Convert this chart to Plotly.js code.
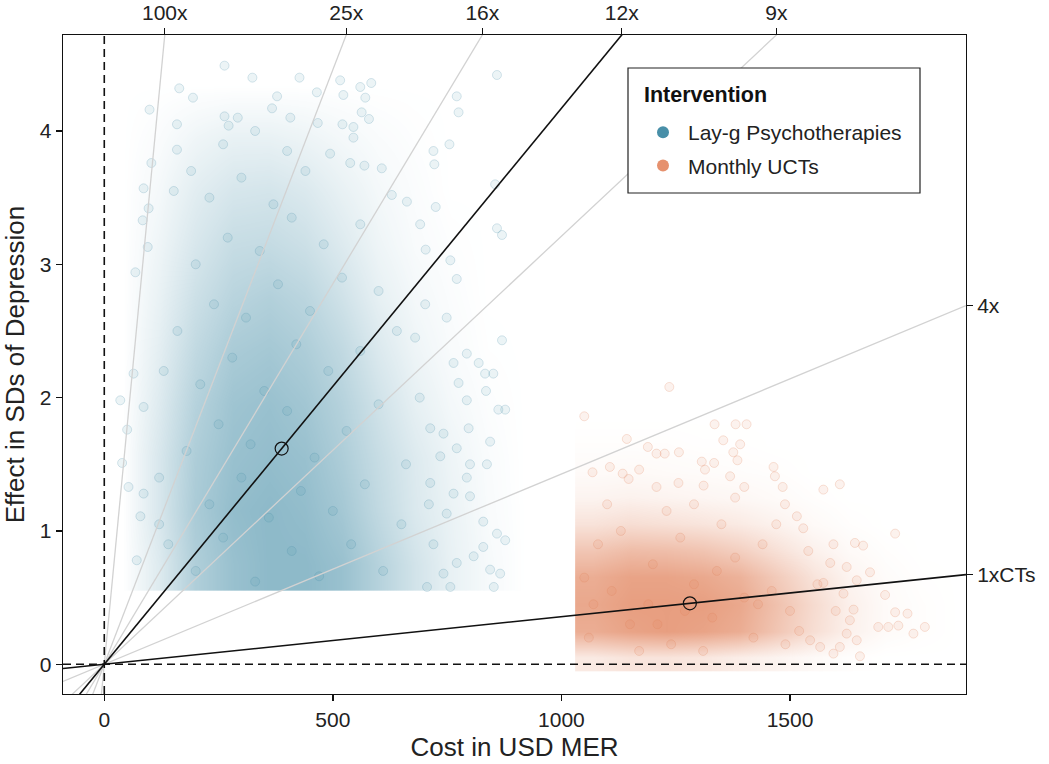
<!DOCTYPE html>
<html>
<head>
<meta charset="utf-8">
<script src="https://cdn.plot.ly/plotly-3.0.1.min.js"></script>
<style>
  html, body { margin: 0; padding: 0; background: #fff; }
  #chart { width: 1049px; height: 764px; }
</style>
</head>
<body>
<div id="chart"></div>
<script>
// ---------------- DATA ----------------
const seriesNames = ['Lay-g Psychotherapies', 'Monthly UCTs'];
const legendTitle = 'Intervention';

// Means (the open circles)
const tealMeanX = 388, tealMeanY = 1.618;
const orangeMeanX = 1281, orangeMeanY = 0.457;

// Cost-effectiveness multiples of cash transfers (grey guide lines)
const gridRatios = [100, 25, 16, 9, 4];
const gridLabels = ['100x', '25x', '16x', '9x', '4x'];
const tealLineLabel = '12x';
const orangeLineLabel = '1xCTs';

// Estimated point density of the dense clouds (0..1), cell centres
const tealDensityX = [40, 120, 200, 280, 360, 440, 520, 600, 680, 760, 840, 920];
const tealDensityY = [0.75, 1.15, 1.55, 1.95, 2.35, 2.75, 3.15, 3.55, 3.95, 4.35];
const tealDensityZ = [
  [0, 0.30, 0.70, 0.90, 1.00, 1.00, 0.90, 0.65, 0.40, 0.20, 0.08, 0],
  [0, 0.35, 0.75, 0.95, 1.00, 0.95, 0.80, 0.55, 0.32, 0.18, 0.06, 0],
  [0, 0.35, 0.72, 0.90, 0.95, 0.90, 0.72, 0.50, 0.30, 0.15, 0.05, 0],
  [0, 0.30, 0.65, 0.85, 0.90, 0.82, 0.65, 0.42, 0.22, 0.10, 0.03, 0],
  [0, 0.25, 0.55, 0.75, 0.80, 0.72, 0.55, 0.32, 0.15, 0.06, 0.01, 0],
  [0, 0.20, 0.45, 0.62, 0.68, 0.60, 0.42, 0.22, 0.10, 0.04, 0, 0],
  [0, 0.15, 0.35, 0.50, 0.52, 0.45, 0.30, 0.15, 0.06, 0.02, 0, 0],
  [0, 0.10, 0.26, 0.36, 0.38, 0.32, 0.20, 0.10, 0.04, 0, 0, 0],
  [0, 0.05, 0.14, 0.20, 0.20, 0.16, 0.10, 0.05, 0.02, 0, 0, 0],
  [0, 0, 0, 0, 0, 0, 0, 0, 0, 0, 0, 0]
];
const orangeDensityX = [1070, 1150, 1230, 1310, 1390, 1470, 1550, 1630, 1710, 1790, 1870];
const orangeDensityY = [0.05, 0.25, 0.45, 0.65, 0.85, 1.05, 1.25, 1.45, 1.65, 1.85];
const orangeDensityZ = [
  [0.22, 0.28, 0.28, 0.25, 0.18, 0.12, 0.06, 0.02, 0, 0, 0],
  [0.85, 0.95, 1.00, 0.95, 0.85, 0.60, 0.35, 0.15, 0.05, 0.02, 0],
  [0.90, 1.00, 1.00, 1.00, 0.90, 0.65, 0.38, 0.16, 0.05, 0.02, 0],
  [0.85, 0.95, 0.95, 0.90, 0.80, 0.55, 0.30, 0.12, 0.04, 0.01, 0],
  [0.60, 0.70, 0.68, 0.62, 0.50, 0.33, 0.16, 0.06, 0.02, 0, 0],
  [0.30, 0.35, 0.32, 0.28, 0.22, 0.14, 0.06, 0.02, 0, 0, 0],
  [0.12, 0.14, 0.12, 0.10, 0.08, 0.05, 0.02, 0, 0, 0, 0],
  [0.05, 0.06, 0.05, 0.04, 0.03, 0.02, 0, 0, 0, 0, 0],
  [0.02, 0.02, 0.02, 0.01, 0.01, 0, 0, 0, 0, 0, 0],
  [0, 0, 0, 0, 0, 0, 0, 0, 0, 0, 0]
];

// Individual simulation draws (visible points, outliers and texture)
const tealX = [263, 324, 427, 516, 560, 584, 571, 164, 194, 99, 859, 771, 775, 465, 523, 367, 378, 407, 467, 521,
  545, 545, 579, 563, 159, 159, 103, 86, 97, 84, 95, 68, 152, 720, 722, 755, 855, 859, 870, 725,
  691, 662, 703, 757, 771, 702, 749, 870, 629, 607, 569, 538, 494, 292, 263, 272,
  764, 793, 819, 833, 851, 835, 862, 877, 775, 793, 713, 742, 797, 844, 771, 735, 800, 837, 793, 713,
  764, 800, 749, 829, 859, 877, 829, 808, 771, 844, 866, 742, 852, 757, 706,
  35, 50, 53, 86, 79, 71, 86, 64, 39,
  200, 260, 330, 410, 470, 540, 610, 230, 300, 360, 430, 500, 570, 650, 180, 250, 320, 400, 460, 530,
  600, 210, 280, 350, 420, 490, 560, 160, 240, 310, 380, 450, 520, 200, 270, 340, 410, 480, 230, 300,
  370, 440, 260, 330, 400, 640, 690, 660, 710, 720, 140, 120, 130, 190, 560, 600, 680, 120];
const tealY = [4.49, 4.40, 4.40, 4.38, 4.33, 4.36, 4.25, 4.32, 4.25, 4.16, 4.42, 4.26, 4.14, 4.29, 4.27, 4.17, 4.26, 4.10, 4.06, 4.05,
  4.03, 3.95, 4.09, 4.14, 4.05, 3.86, 3.76, 3.57, 3.42, 3.33, 3.13, 2.94, 3.55, 3.85, 3.75, 3.90, 3.60, 3.27, 3.22, 3.43,
  3.30, 3.47, 3.11, 3.03, 2.89, 2.70, 2.60, 2.43, 3.52, 3.72, 3.74, 3.76, 3.83, 4.10, 4.11, 4.04,
  2.26, 2.33, 2.26, 2.18, 2.18, 2.05, 1.91, 1.91, 2.11, 1.98, 1.77, 1.73, 1.77, 1.67, 1.62, 1.56, 1.50, 1.50, 1.40, 1.36,
  1.28, 1.26, 1.13, 1.07, 0.98, 0.93, 0.88, 0.81, 0.76, 0.71, 0.68, 0.68, 0.58, 0.58, 0.58,
  1.98, 1.76, 1.33, 1.28, 1.11, 0.78, 1.93, 2.18, 1.51,
  0.70, 0.95, 0.62, 0.85, 0.66, 0.90, 0.70, 1.20, 1.40, 1.10, 1.30, 1.15, 1.35, 1.05, 1.60, 1.80, 1.65, 1.90, 1.55, 1.75,
  1.95, 2.10, 2.30, 2.05, 2.40, 2.20, 2.35, 2.50, 2.70, 2.60, 2.85, 2.65, 2.90, 3.00, 3.20, 3.10, 3.35, 3.15, 3.50, 3.65,
  3.45, 3.70, 3.90, 4.00, 3.85, 2.50, 2.00, 1.50, 1.20, 0.90, 0.90, 1.40, 2.20, 3.70, 3.30, 2.80, 2.45, 1.05];

const orangeX = [1236, 1050, 1335, 1381, 1405, 1143, 1354, 1391, 1189, 1208, 1226, 1257, 1376, 1385, 1307, 1334, 1068, 1106, 1134, 1170,
  1147, 1314, 1369, 1464, 1467, 1573, 1609, 1484, 1400, 1208, 1256, 1311, 1730, 1595, 1642, 1660, 1529, 1515, 1489, 1675,
  1708, 1730, 1757, 1693, 1715, 1737, 1770, 1795, 1646, 1631, 1617, 1639, 1624, 1646, 1588, 1573, 1595, 1609, 1624, 1566,
  1544, 1653,
  1060, 1110, 1150, 1200, 1240, 1290, 1330, 1380, 1420, 1460, 1500, 1080, 1130, 1190, 1260, 1310, 1350, 1400, 1440, 1520,
  1560, 1070, 1170, 1230, 1290, 1470, 1100, 1380, 1540, 1600, 1050, 1210, 1270, 1340, 1430, 1490];
const orangeY = [2.08, 1.86, 1.80, 1.80, 1.80, 1.69, 1.68, 1.65, 1.63, 1.58, 1.58, 1.59, 1.59, 1.53, 1.52, 1.51, 1.44, 1.48, 1.43, 1.46,
  1.39, 1.46, 1.41, 1.48, 1.41, 1.31, 1.35, 1.33, 1.33, 1.33, 1.36, 1.34, 0.98, 0.90, 0.91, 0.89, 1.02, 1.11, 1.20, 0.69,
  0.52, 0.39, 0.38, 0.28, 0.28, 0.29, 0.23, 0.28, 0.18, 0.33, 0.53, 0.41, 0.73, 0.63, 0.76, 0.61, 0.08, 0.13, 0.23, 0.13,
  0.18, 0.06,
  0.20, 0.55, 0.30, 0.75, 0.15, 0.60, 0.35, 0.80, 0.20, 0.55, 0.40, 0.90, 1.00, 0.45, 0.95, 0.10, 1.05, 0.50, 0.90, 0.25,
  0.60, 0.45, 0.10, 1.15, 1.20, 1.05, 1.20, 1.25, 0.85, 0.40, 0.65, 0.30, 0.40, 0.70, 0.45, 0.15];

// ---------------- STYLE ----------------
const TEAL = '72,143,168';
const ORANGE = '224,128,88';
const FONT = 'Liberation Sans, Arial, Helvetica, sans-serif';
const X_RANGE = [-90.3, 1885];
const Y_RANGE = [-0.223, 4.72];
const M = { l: 63, r: 83, t: 35, b: 70 };
const PLOT_W = 1049 - M.l - M.r, PLOT_H = 764 - M.t - M.b;
const px2paperX = p => (p - M.l) / PLOT_W;
const px2paperY = p => (764 - M.b - p) / PLOT_H;

// ---------------- TRACES ----------------
const traces = [];

traces.push({
  type: 'heatmap', x: tealDensityX, y: tealDensityY, z: tealDensityZ,
  zmin: 0, zmax: 1, zsmooth: 'best', showscale: false, hoverinfo: 'skip',
  colorscale: [[0, 'rgba(' + TEAL + ',0)'], [1, 'rgba(' + TEAL + ',0.62)']]
});
traces.push({
  type: 'heatmap', x: orangeDensityX, y: orangeDensityY, z: orangeDensityZ,
  zmin: 0, zmax: 1, zsmooth: 'best', showscale: false, hoverinfo: 'skip',
  colorscale: [[0, 'rgba(' + ORANGE + ',0)'], [1, 'rgba(' + ORANGE + ',0.76)']]
});

traces.push({
  type: 'scatter', mode: 'markers', x: tealX, y: tealY, showlegend: false, hoverinfo: 'skip',
  marker: { size: 9, color: 'rgba(' + TEAL + ',0.10)', line: { color: 'rgba(' + TEAL + ',0.22)', width: 1 } }
});
traces.push({
  type: 'scatter', mode: 'markers', x: orangeX, y: orangeY, showlegend: false, hoverinfo: 'skip',
  marker: { size: 9, color: 'rgba(' + ORANGE + ',0.10)', line: { color: 'rgba(' + ORANGE + ',0.22)', width: 1 } }
});

// guide lines through the origin
const baseSlope = orangeMeanY / orangeMeanX;
const lineDefs = gridRatios.map((r, i) => ({ slope: r * baseSlope, label: gridLabels[i], color: '#d2d2d2', w: 1.3 }));
lineDefs.push({ slope: tealMeanY / tealMeanX, label: tealLineLabel, color: '#111111', w: 1.6 });
lineDefs.push({ slope: baseSlope, label: orangeLineLabel, color: '#111111', w: 1.6 });

lineDefs.forEach(d => {
  traces.push({
    type: 'scatter', mode: 'lines', showlegend: false, hoverinfo: 'skip',
    xaxis: 'x2', yaxis: 'y2',
    x: [X_RANGE[0], X_RANGE[1]], y: [d.slope * X_RANGE[0], d.slope * X_RANGE[1]],
    line: { color: d.color, width: d.w }
  });
});

traces.push({
  type: 'scatter', mode: 'markers', showlegend: false, hoverinfo: 'skip',
  xaxis: 'x2', yaxis: 'y2',
  x: [tealMeanX, orangeMeanX], y: [tealMeanY, orangeMeanY],
  marker: { symbol: 'circle-open', size: 13, color: '#111', line: { width: 1.2 } }
});

// legend entries
traces.push({ type: 'scatter', mode: 'markers', x: [null], y: [null], name: seriesNames[0], legendgroup: 'a',
  marker: { size: 8, color: 'rgb(' + TEAL + ')' } });
traces.push({ type: 'scatter', mode: 'markers', x: [null], y: [null], name: seriesNames[1], legendgroup: 'b',
  marker: { size: 8, color: 'rgb(230,145,110)' } });

// label ticks for guide lines: top edge or right edge
const topVals = [], topText = [], rightVals = [], rightText = [];
lineDefs.forEach(d => {
  const yEnd = d.slope * X_RANGE[1];
  if (yEnd > Y_RANGE[1]) { topVals.push(Y_RANGE[1] / d.slope); topText.push(d.label); }
  else { rightVals.push(yEnd); rightText.push(d.label); }
});

const axisCommon = {
  showgrid: false, zeroline: false, ticks: 'outside', ticklen: 6, tickwidth: 1.3,
  tickcolor: '#111', tickfont: { family: FONT, size: 21, color: '#222' }
};

const layout = {
  width: 1049, height: 764,
  margin: M,
  paper_bgcolor: '#fff', plot_bgcolor: '#fff',
  font: { family: FONT, color: '#222' },
  xaxis: Object.assign({}, axisCommon, {
    range: X_RANGE, tickmode: 'array', tickvals: [0, 500, 1000, 1500],
    showline: true, linecolor: '#111', linewidth: 1.3, mirror: true,
    title: { text: 'Cost in USD MER', font: { family: FONT, size: 26, color: '#222' }, standoff: 8 }
  }),
  yaxis: Object.assign({}, axisCommon, {
    range: Y_RANGE, tickmode: 'array', tickvals: [0, 1, 2, 3, 4],
    showline: true, linecolor: '#111', linewidth: 1.3, mirror: true,
    title: { text: 'Effect in SDs of Depression', font: { family: FONT, size: 26, color: '#222' }, standoff: 10 }
  }),
  xaxis2: Object.assign({}, axisCommon, {
    overlaying: 'x', side: 'top', range: X_RANGE, tickmode: 'array',
    tickvals: topVals, ticktext: topText, showline: false
  }),
  yaxis2: Object.assign({}, axisCommon, {
    overlaying: 'y', side: 'right', range: Y_RANGE, tickmode: 'array',
    tickvals: rightVals, ticktext: rightText, showline: false
  }),
  shapes: [
    { type: 'line', xref: 'x', yref: 'paper', x0: 0, x1: 0, y0: 0, y1: 1,
      line: { color: '#111', width: 1.6, dash: '8px,5px' } },
    { type: 'line', xref: 'paper', yref: 'y', x0: 0, x1: 1, y0: 0, y1: 0,
      line: { color: '#111', width: 1.6, dash: '8px,5px' } },
    { type: 'rect', xref: 'paper', yref: 'paper', layer: 'above',
      x0: px2paperX(628), x1: px2paperX(920), y0: px2paperY(193), y1: px2paperY(68),
      fillcolor: '#fff', line: { color: '#222', width: 1.2 } }
  ],
  annotations: [
    { text: legendTitle, xref: 'paper', yref: 'paper', x: px2paperX(642), y: px2paperY(95),
      xanchor: 'left', yanchor: 'middle', showarrow: false,
      font: { family: FONT, size: 21.5, color: '#111', weight: 'bold' } }
  ],
  showlegend: true,
  legend: {
    x: px2paperX(638), y: px2paperY(112), xanchor: 'left', yanchor: 'top',
    bgcolor: 'rgba(0,0,0,0)', borderwidth: 0,
    font: { family: FONT, size: 21, color: '#222' },
    tracegroupgap: 3, itemsizing: 'constant', itemwidth: 40
  }
};

Plotly.newPlot('chart', traces, layout, { displayModeBar: false, staticPlot: true });
</script>
</body>
</html>
